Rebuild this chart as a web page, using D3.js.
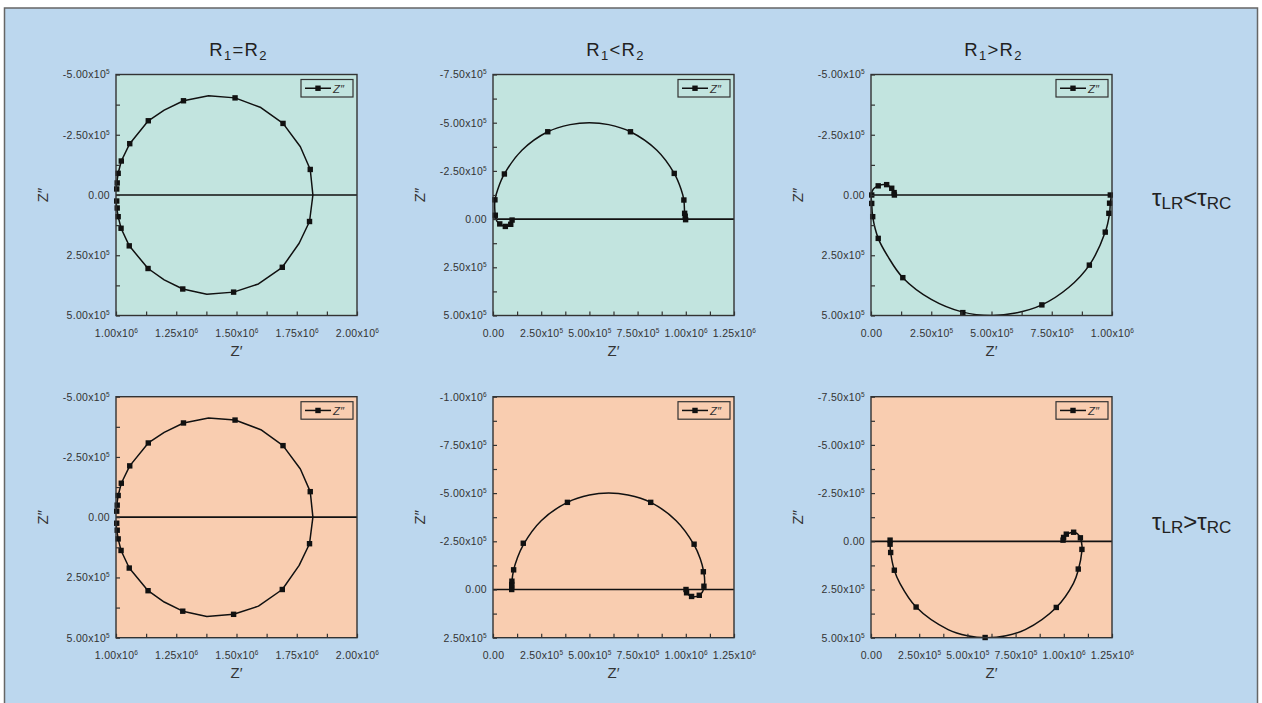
<!DOCTYPE html>
<html><head><meta charset="utf-8">
<script src="https://cdn.jsdelivr.net/npm/d3@7"></script>
<style>
body{margin:0;background:#fff}
svg{display:block}
text{font-family:"Liberation Sans",Arial,Helvetica,sans-serif}
</style>
</head><body>
<svg id="chart" width="1262" height="703"></svg>
<script>
// ---------------- DATA ----------------
// column titles / row labels: [text, isSubscript]
const colTitles = [
  [["R",0],["1",1],["=",0],["R",0],["2",1]],
  [["R",0],["1",1],["<",0],["R",0],["2",1]],
  [["R",0],["1",1],[">",0],["R",0],["2",1]]
];
const rowLabels = [
  [["τ",0],["LR",1],["<",0],["τ",0],["RC",1]],
  [["τ",0],["LR",1],[">",0],["τ",0],["RC",1]]
];
const seriesName = "Z″";
const xTitle = "Z′";
const yTitle = "Z″";

// tick values
const xTicksEq   = [1.00e6, 1.25e6, 1.50e6, 1.75e6, 2.00e6];
const yTicksEq   = [-5.0e5, -2.5e5, 0, 2.5e5, 5.0e5];
const xTicksLt   = [0, 2.5e5, 5.0e5, 7.5e5, 1.00e6, 1.25e6];
const yTicksLtA  = [-7.5e5, -5.0e5, -2.5e5, 0, 2.5e5, 5.0e5];
const xTicksGtA  = [0, 2.5e5, 5.0e5, 7.5e5, 1.00e6];
const yTicksGtA  = [-5.0e5, -2.5e5, 0, 2.5e5, 5.0e5];
const yTicksLtB  = [-1.00e6, -7.5e5, -5.0e5, -2.5e5, 0, 2.5e5];
const xTicksGtB  = [0, 2.5e5, 5.0e5, 7.5e5, 1.00e6, 1.25e6];
const yTicksGtB  = [-7.5e5, -5.0e5, -2.5e5, 0, 2.5e5, 5.0e5];

// R1 = R2 (both rows): line vertices [Z', Z'']
const eqLine = [
  [1.000e6,-0.20e5],[1.003e6,-0.50e5],[1.009e6,-0.90e5],[1.022e6,-1.41e5],[1.057e6,-2.13e5],
  [1.134e6,-3.08e5],[1.200e6,-3.52e5],[1.280e6,-3.91e5],[1.384e6,-4.12e5],[1.494e6,-4.03e5],
  [1.601e6,-3.63e5],[1.693e6,-2.97e5],[1.765e6,-2.00e5],[1.806e6,-1.06e5],[1.817e6,0],
  [1.803e6,1.10e5],[1.760e6,2.00e5],[1.690e6,3.00e5],[1.591e6,3.69e5],[1.488e6,4.03e5],
  [1.377e6,4.12e5],[1.277e6,3.90e5],[1.200e6,3.52e5],[1.133e6,3.05e5],[1.055e6,2.11e5],
  [1.021e6,1.38e5],[1.009e6,0.90e5],[1.003e6,0.54e5],[1.000e6,0.20e5]
];
const eqMarks = [
  [1.003e6,-0.25e5],[1.005e6,-0.50e5],[1.009e6,-0.90e5],[1.022e6,-1.41e5],[1.057e6,-2.13e5],
  [1.134e6,-3.08e5],[1.280e6,-3.91e5],[1.494e6,-4.03e5],[1.693e6,-2.97e5],[1.806e6,-1.06e5],
  [1.803e6,1.10e5],[1.690e6,3.00e5],[1.488e6,4.03e5],[1.277e6,3.90e5],[1.133e6,3.05e5],
  [1.055e6,2.11e5],[1.021e6,1.38e5],[1.009e6,0.90e5],[1.005e6,0.54e5],[1.003e6,0.25e5]
];

// R1 < R2, tauLR < tauRC
const ltALine = [
  [1.000e6,0],[0.997e6,-0.15e5],[0.994e6,-0.30e5],[0.990e6,-0.99e5],[0.975e6,-1.56e5],
  [0.940e6,-2.37e5],[0.850e6,-3.57e5],[0.713e6,-4.53e5],[0.600e6,-4.90e5],[0.500e6,-5.00e5],
  [0.400e6,-4.90e5],[0.284e6,-4.53e5],[0.150e6,-3.57e5],[0.059e6,-2.34e5],[0.025e6,-1.55e5],
  [0.010e6,-1.00e5],[0.009e6,-0.55e5],[0.012e6,-0.20e5],[0.020e6,0.10e5],[0.035e6,0.25e5],
  [0.064e6,0.38e5],[0.085e6,0.32e5],[0.096e6,0.18e5],[0.099e6,0.05e5],[0.100e6,0]
];
const ltAMarks = [
  [0.999e6,0.03e5],[0.997e6,-0.15e5],[0.994e6,-0.30e5],[0.990e6,-0.99e5],[0.940e6,-2.37e5],
  [0.713e6,-4.53e5],[0.284e6,-4.53e5],[0.059e6,-2.34e5],[0.010e6,-1.00e5],[0.012e6,-0.20e5],
  [0.035e6,0.25e5],[0.064e6,0.38e5],[0.092e6,0.27e5],[0.099e6,0.05e5]
];

// R1 > R2, tauLR < tauRC
const gtALine = [
  [0.998e6,-0.03e5],[0.993e6,0.34e5],[0.990e6,0.76e5],[0.972e6,1.54e5],[0.906e6,2.91e5],
  [0.820e6,3.84e5],[0.709e6,4.56e5],[0.600e6,4.90e5],[0.500e6,5.00e5],[0.381e6,4.86e5],
  [0.250e6,4.33e5],[0.132e6,3.43e5],[0.070e6,2.55e5],[0.030e6,1.80e5],[0.007e6,0.90e5],
  [0.003e6,0.35e5],[0.001e6,0],[0.010e6,-0.25e5],[0.030e6,-0.38e5],[0.060e6,-0.43e5],
  [0.086e6,-0.28e5],[0.094e6,-0.10e5],[0.097e6,0]
];
const gtAMarks = [
  [0.993e6,0],[0.990e6,0.34e5],[0.987e6,0.76e5],[0.972e6,1.54e5],[0.906e6,2.91e5],
  [0.709e6,4.56e5],[0.381e6,4.88e5],[0.132e6,3.43e5],[0.030e6,1.80e5],[0.007e6,0.90e5],
  [0.003e6,0.35e5],[0.003e6,0],[0.030e6,-0.38e5],[0.065e6,-0.43e5],[0.086e6,-0.28e5],
  [0.096e6,-0.10e5],[0.097e6,0]
];

// R1 < R2, tauLR > tauRC
const ltBLine = [
  [0.097e6,0],[0.097e6,-0.26e5],[0.098e6,-0.43e5],[0.107e6,-1.02e5],[0.125e6,-1.60e5],
  [0.157e6,-2.32e5],[0.250e6,-3.57e5],[0.386e6,-4.52e5],[0.500e6,-4.90e5],[0.600e6,-5.00e5],
  [0.700e6,-4.90e5],[0.818e6,-4.52e5],[0.950e6,-3.57e5],[1.043e6,-2.32e5],[1.075e6,-1.60e5],
  [1.093e6,-0.92e5],[1.098e6,-0.40e5],[1.094e6,-0.10e5],[1.085e6,0.15e5],[1.070e6,0.30e5],
  [1.045e6,0.38e5],[1.030e6,0.36e5],[1.012e6,0.25e5],[1.004e6,0.15e5],[1.001e6,0]
];
const ltBMarks = [
  [0.097e6,0],[0.097e6,-0.13e5],[0.097e6,-0.26e5],[0.098e6,-0.43e5],[0.107e6,-1.02e5],
  [0.157e6,-2.40e5],[0.386e6,-4.52e5],[0.818e6,-4.52e5],[1.043e6,-2.35e5],[1.091e6,-0.92e5],
  [1.094e6,-0.17e5],[1.070e6,0.30e5],[1.030e6,0.36e5],[1.004e6,0.17e5],[1.001e6,0]
];

// R1 > R2, tauLR > tauRC
const gtBLine = [
  [0.099e6,-0.06e5],[0.099e6,0.15e5],[0.102e6,0.58e5],[0.121e6,1.50e5],[0.150e6,2.18e5],
  [0.234e6,3.41e5],[0.400e6,4.58e5],[0.500e6,4.90e5],[0.600e6,5.00e5],[0.700e6,4.90e5],
  [0.800e6,4.58e5],[0.961e6,3.43e5],[1.050e6,2.18e5],[1.075e6,1.50e5],[1.094e6,0.50e5],
  [1.094e6,0.20e5],[1.086e6,-0.18e5],[1.070e6,-0.40e5],[1.051e6,-0.47e5],[1.030e6,-0.43e5],
  [1.013e6,-0.33e5],[0.999e6,-0.18e5],[0.996e6,-0.06e5]
];
const gtBMarks = [
  [0.099e6,-0.06e5],[0.099e6,0.15e5],[0.102e6,0.58e5],[0.121e6,1.50e5],[0.234e6,3.41e5],
  [0.592e6,4.99e5],[0.961e6,3.43e5],[1.075e6,1.44e5],[1.094e6,0.42e5],[1.086e6,-0.18e5],
  [1.051e6,-0.47e5],[1.013e6,-0.37e5],[0.999e6,-0.20e5],[0.996e6,-0.06e5]
];

// ---------------- LAYOUT / STYLE ----------------
const colX = [116, 493, 871];
const rowY = [74.5, 396.7];
const PW = 241, PH = 241;
const bgBlue = "#bcd7ee", bgGreen = "#c2e4df", bgOrange = "#f9cdb0";
const ink = "#111", frameCol = "#333", textCol = "#333";

const panels = [
  {r:0,c:0,xDom:[1e6,2e6],   yDom:[-5e5,5e5],   xT:xTicksEq, yT:yTicksEq,  line:eqLine, marks:eqMarks, lin:true},
  {r:0,c:1,xDom:[0,1.25e6],  yDom:[-7.5e5,5e5], xT:xTicksLt, yT:yTicksLtA, line:ltALine, marks:ltAMarks},
  {r:0,c:2,xDom:[0,1e6],     yDom:[-5e5,5e5],   xT:xTicksGtA, yT:yTicksGtA, line:gtALine, marks:gtAMarks},
  {r:1,c:0,xDom:[1e6,2e6],   yDom:[-5e5,5e5],   xT:xTicksEq, yT:yTicksEq,  line:eqLine, marks:eqMarks, lin:true},
  {r:1,c:1,xDom:[0,1.25e6],  yDom:[-1e6,2.5e5], xT:xTicksLt, yT:yTicksLtB, line:ltBLine, marks:ltBMarks},
  {r:1,c:2,xDom:[0,1.25e6],  yDom:[-7.5e5,5e5], xT:xTicksGtB, yT:yTicksGtB, line:gtBLine, marks:gtBMarks}
];

const svg = d3.select("#chart");
svg.append("rect").attr("x",4.5).attr("y",8).attr("width",1253).attr("height",705)
  .attr("fill",bgBlue).attr("stroke","#666").attr("stroke-width",1.5);

function withMids(t){
  const out = t.slice();
  for (let i=0;i<t.length-1;i++) out.push((t[i]+t[i+1])/2);
  return out;
}
function fmtParts(v){
  if (v === 0) return ["0.00", null];
  const e = Math.floor(Math.log10(Math.abs(v)) + 1e-9);
  const m = v/Math.pow(10,e);
  return [m.toFixed(2)+"x10", String(e)];
}
function styleTickText(sel, majors){
  sel.selectAll(".tick text").each(function(d){
    const t = d3.select(this);
    t.text(null);
    if (!majors.some(m => Math.abs(m-d) < 1)) return;
    const [m,e] = fmtParts(d);
    t.append("tspan").text(m);
    if (e !== null) t.append("tspan").attr("font-size",6.5).attr("dy",-4).text(e);
  });
  sel.selectAll(".tick text").attr("fill",textCol).attr("font-size",10.5)
     .attr("letter-spacing",0.3).attr("font-family",'"Liberation Sans",Arial,sans-serif');
  sel.selectAll(".tick line").attr("stroke",frameCol).attr("stroke-width",1.2);
  sel.select(".domain").remove();
}
function richText(g, parts, big, small, shift){
  parts.forEach(([s,sub],i) => {
    const ts = g.append("tspan").text(s).attr("font-size", sub ? small : big);
    const prevSub = i>0 && parts[i-1][1];
    if (sub && !prevSub) ts.attr("dy", shift);
    else if (!sub && prevSub) ts.attr("dy", -shift);
  });
}

panels.forEach((p,i) => {
  const x0 = colX[p.c], y0 = rowY[p.r];
  const g = svg.append("g").attr("transform",`translate(${x0},${y0})`);
  const x = d3.scaleLinear().domain(p.xDom).range([0,PW]);
  const y = d3.scaleLinear().domain(p.yDom).range([0,PH]);

  const clipId = "clip"+i;
  g.append("clipPath").attr("id",clipId).append("rect").attr("width",PW).attr("height",PH);

  g.append("rect").attr("width",PW).attr("height",PH).attr("fill", p.r===0 ? bgGreen : bgOrange);

  // zero line
  g.append("line").attr("x1",0).attr("x2",PW).attr("y1",y(0)).attr("y2",y(0))
    .attr("stroke",ink).attr("stroke-width",1.7);

  const lineGen = d3.line().x(d=>x(d[0])).y(d=>y(d[1]))
    .curve(p.lin ? d3.curveLinear : d3.curveCatmullRom.alpha(0.5));
  g.append("path").datum(p.line).attr("d",lineGen).attr("fill","none")
    .attr("stroke",ink).attr("stroke-width",1.5).attr("stroke-linejoin","round")
    .attr("clip-path",`url(#${clipId})`);

  const ms = 5.4;
  g.selectAll("rect.m").data(p.marks).join("rect").attr("class","m")
    .attr("x",d=>x(d[0])-ms/2).attr("y",d=>y(d[1])-ms/2)
    .attr("width",ms).attr("height",ms).attr("fill",ink);

  // axes
  const xa = g.append("g").attr("transform",`translate(0,${PH})`)
    .call(d3.axisBottom(x).tickValues(withMids(p.xT)).tickSizeInner(-4).tickSizeOuter(0).tickPadding(14));
  styleTickText(xa, p.xT);
  const ya = g.append("g")
    .call(d3.axisLeft(y).tickValues(withMids(p.yT)).tickSizeInner(-4).tickSizeOuter(0).tickPadding(6));
  styleTickText(ya, p.yT);

  // frame
  g.append("rect").attr("width",PW).attr("height",PH).attr("fill","none")
    .attr("stroke",frameCol).attr("stroke-width",1.4);

  // legend
  const lg = g.append("g").attr("transform",`translate(${PW-56},5)`);
  lg.append("rect").attr("width",52).attr("height",17.5)
    .attr("fill", p.r===0 ? bgGreen : bgOrange).attr("stroke",frameCol).attr("stroke-width",1.2);
  lg.append("line").attr("x1",4).attr("x2",30).attr("y1",8.75).attr("y2",8.75)
    .attr("stroke",ink).attr("stroke-width",1.5);
  lg.append("rect").attr("x",17-2.7).attr("y",8.75-2.7).attr("width",5.4).attr("height",5.4).attr("fill",ink);
  lg.append("text").attr("x",32).attr("y",13).attr("font-size",11.5).attr("fill",textCol)
    .attr("font-style","italic").text(seriesName);

  // axis titles
  g.append("text").attr("x",PW/2).attr("y",PH+40.5).attr("text-anchor","middle")
    .attr("font-size",15).attr("fill",textCol).text(xTitle);
  g.append("text").attr("transform",`translate(-68,${PH/2}) rotate(-90)`)
    .attr("text-anchor","middle").attr("font-size",15).attr("fill",textCol).text(yTitle);

  if (p.r === 0) {
    const t = g.append("text").attr("x",PW/2+2).attr("y",-18.5).attr("text-anchor","middle")
      .attr("fill","#222").attr("letter-spacing",1.3);
    richText(t, colTitles[p.c], 18.5, 13, 3.5);
  }
});

// row labels
[205.5, 529.5].forEach((by,i) => {
  const t = svg.append("text").attr("x",1152).attr("y",by).attr("fill","#222");
  richText(t, rowLabels[i], 24, 17, 3.5);
});
</script>
</body></html>
